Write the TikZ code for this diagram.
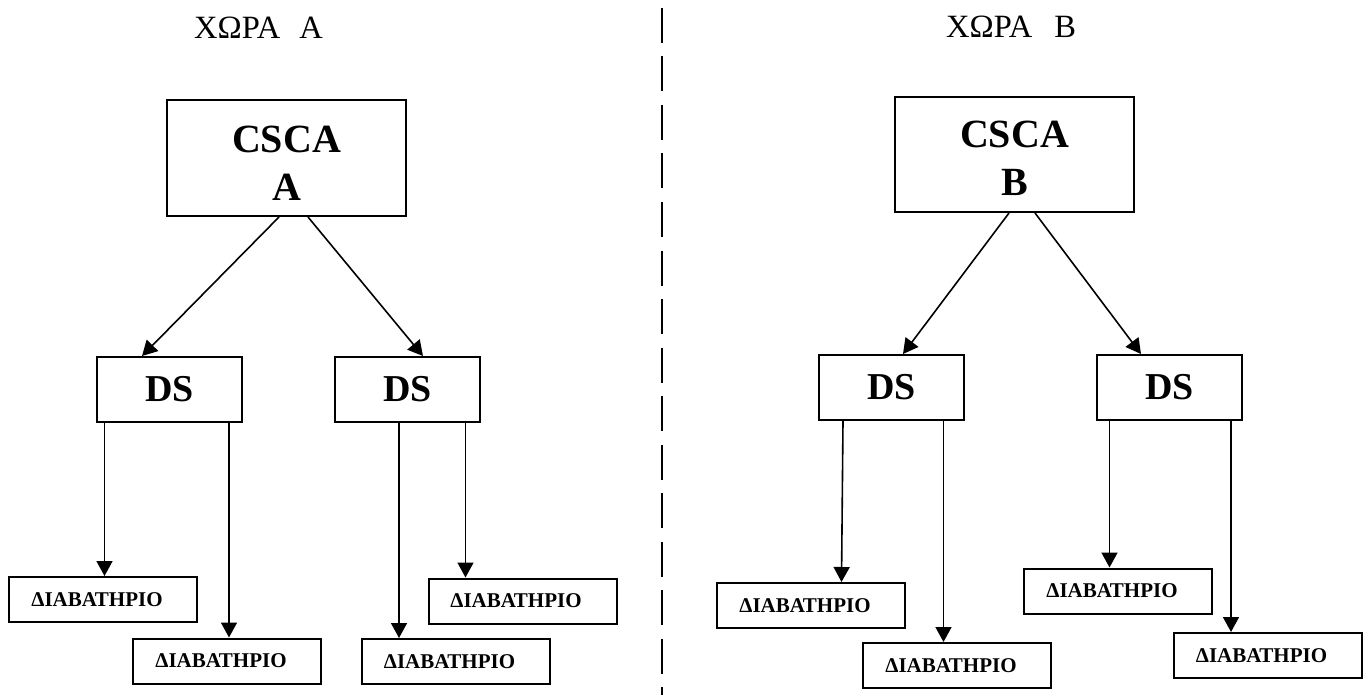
\documentclass[tikz,border=0pt]{standalone}
\usepackage{fontspec}
\setmainfont{Liberation Serif}
\usetikzlibrary{arrows.meta}
\begin{document}
\begin{tikzpicture}[x=1pt,y=-1pt,
  cabox/.style={draw,line width=2pt,inner sep=0pt,minimum width=239pt,minimum height=116pt},
  catext/.style={inner sep=0pt,align=center,font=\fontsize{40}{48}\selectfont\bfseries},
  dsbox/.style={draw,line width=2pt,inner sep=0pt,minimum width=145pt,minimum height=65pt,font=\fontsize{38}{46}\selectfont\bfseries},
  pbox/.style={draw,line width=2pt,inner sep=0pt,minimum width=188pt,minimum height=45pt,font=\fontsize{21}{25}\selectfont\bfseries},
  arr/.style={line width=1.6pt,-{Triangle[length=15pt,width=16pt]}},
  title/.style={anchor=base west,inner sep=0pt,font=\fontsize{32.5}{38}\selectfont},
  sepline/.style={line width=2.5pt,dash pattern=on 35pt off 13.5pt}
]
\useasboundingbox (0,0) rectangle (1365,695);

% titles
\node[title] (titleA) at (194,38.5) {ΧΩΡΑ\hspace{19pt}Α};
\node[title] (titleB) at (946,37.5) {ΧΩΡΑ\hspace{22pt}Β};

% separator
\coordinate (septop) at (662,8);
\coordinate (sepbot) at (662,695);
\draw[sepline] (septop) -- (sepbot);

% CSCA boxes
\node[cabox] (cscaA) at (286.5,158) {};
\node[catext,yshift=-5pt] (cscaAt) at (cscaA.center) {CSCA\\A};
\node[cabox,minimum height=115pt] (cscaB) at (1014.5,154.5) {};
\node[catext,yshift=-4pt] (cscaBt) at (cscaB.center) {CSCA\\B};

% DS boxes
\node[dsbox] (ds1) at (169.5,389.5) {DS};
\node[dsbox] (ds2) at (407.5,389.5) {DS};
\node[dsbox] (ds3) at (891.5,387.5) {DS};
\node[dsbox] (ds4) at (1169.5,387.5) {DS};

% passport boxes
\node[pbox] (p1) at (103,599.5) {ΔΙΑΒΑΤΗΡΙΟ\hspace*{12pt}};
\node[pbox] (p2) at (227,661) {ΔΙΑΒΑΤΗΡΙΟ\hspace*{12pt}};
\node[pbox] (p3) at (455.5,661.5) {ΔΙΑΒΑΤΗΡΙΟ\hspace*{12pt}};
\node[pbox] (p4) at (523,601) {ΔΙΑΒΑΤΗΡΙΟ\hspace*{14pt}};
\node[pbox] (p5) at (811,605.5) {ΔΙΑΒΑΤΗΡΙΟ\hspace*{12pt}};
\node[pbox] (p6) at (957,665.5) {ΔΙΑΒΑΤΗΡΙΟ\hspace*{12pt}};
\node[pbox] (p7) at (1118,591) {ΔΙΑΒΑΤΗΡΙΟ\hspace*{12pt}};
\node[pbox] (p8) at (1267.5,655.5) {ΔΙΑΒΑΤΗΡΙΟ\hspace*{12pt}};

% CSCA -> DS
\draw[arr] ([xshift=-7.5pt]cscaA.south) -- ([xshift=-27.5pt]ds1.north);
\draw[arr] ([xshift=21.5pt]cscaA.south) -- ([xshift=15.5pt]ds2.north);
\draw[arr] ([xshift=-5.5pt]cscaB.south) -- ([xshift=11.5pt]ds3.north);
\draw[arr] ([xshift=20.5pt]cscaB.south) -- ([xshift=-28.5pt]ds4.north);

% DS -> passports
\draw[arr] ([xshift=-65pt]ds1.south) -- ([xshift=-65pt]ds1.south |- p1.north);
\draw[arr] ([xshift=59.5pt]ds1.south) -- ([xshift=59.5pt]ds1.south |- p2.north);
\draw[arr] ([xshift=-8.5pt]ds2.south) -- ([xshift=-8.5pt]ds2.south |- p3.north);
\draw[arr] ([xshift=58pt]ds2.south) -- ([xshift=58pt]ds2.south |- p4.north);
\draw[arr] ([xshift=-48.5pt]ds3.south) -- ([xshift=-50pt]ds3.south |- p5.north);
\draw[arr] ([xshift=52pt]ds3.south) -- ([xshift=52pt]ds3.south |- p6.north);
\draw[arr] ([xshift=-60pt]ds4.south) -- ([xshift=-60pt]ds4.south |- p7.north);
\draw[arr] ([xshift=61.5pt]ds4.south) -- ([xshift=61.5pt]ds4.south |- p8.north);
\end{tikzpicture}
\end{document}
